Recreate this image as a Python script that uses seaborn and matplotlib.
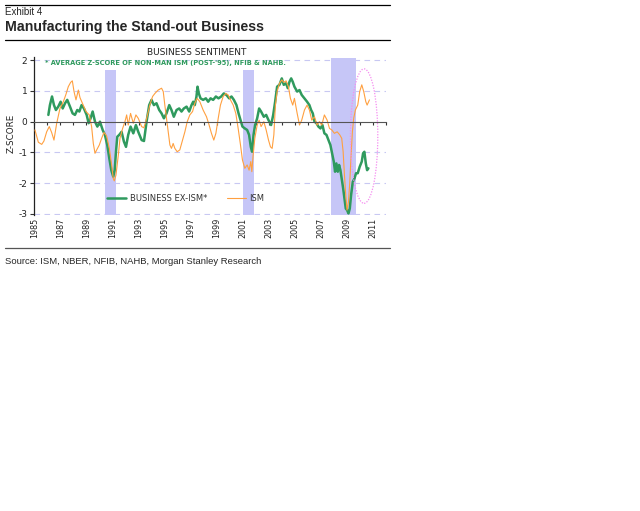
import pandas as pd
import seaborn as sns
import matplotlib.pyplot as plt
from matplotlib.patches import Ellipse
from matplotlib.lines import Line2D

# ISM z-score
ism_year = [1985.05, 1985.31, 1985.57, 1985.74, 1985.95, 1986.15, 1986.33, 1986.51, 1986.72, 1986.97,
            1987.23, 1987.43, 1987.61, 1987.79, 1987.92, 1988.05, 1988.20, 1988.38, 1988.51, 1988.76,
            1988.97, 1989.22, 1989.40, 1989.53, 1989.66, 1989.79, 1989.99, 1990.17, 1990.35, 1990.55,
            1990.76, 1990.94, 1991.06, 1991.14, 1991.27, 1991.45, 1991.58, 1991.78, 1991.96, 1992.09,
            1992.21, 1992.39, 1992.60, 1992.80, 1992.98, 1993.24, 1993.41, 1993.62, 1993.87, 1994.08,
            1994.26, 1994.51, 1994.77, 1994.90, 1995.02, 1995.15, 1995.28, 1995.41, 1995.53, 1995.66,
            1995.79, 1995.97, 1996.17, 1996.38, 1996.56, 1996.74, 1996.94, 1997.15, 1997.32, 1997.50,
            1997.71, 1997.96, 1998.22, 1998.42, 1998.60, 1998.78, 1998.94, 1999.12, 1999.29, 1999.50,
            1999.70, 1999.88, 2000.06, 2000.27, 2000.47, 2000.65, 2000.83, 2000.98, 2001.16, 2001.34,
            2001.49, 2001.62, 2001.70, 2001.80, 2001.93, 2002.11, 2002.26, 2002.41, 2002.62, 2002.80,
            2002.98, 2003.13, 2003.26, 2003.39, 2003.51, 2003.64, 2003.82, 2004.00, 2004.15, 2004.33,
            2004.51, 2004.66, 2004.84, 2004.97, 2005.18, 2005.36, 2005.53, 2005.74, 2005.94, 2006.12,
            2006.30, 2006.51, 2006.71, 2006.89, 2007.07, 2007.27, 2007.48, 2007.66, 2007.84, 2008.04,
            2008.25, 2008.45, 2008.60, 2008.71, 2008.81, 2008.91, 2009.01, 2009.12, 2009.22, 2009.32,
            2009.42, 2009.52, 2009.65, 2009.83, 2009.98, 2010.14, 2010.29, 2010.45, 2010.55, 2010.73]
ism_value = [-0.27, -0.67, -0.74, -0.63, -0.33, -0.16, -0.35, -0.60, -0.05, 0.43,
             0.65, 0.89, 1.14, 1.28, 1.33, 0.98, 0.71, 1.03, 0.78, 0.54,
             0.33, 0.22, -0.16, -0.71, -1.03, -0.92, -0.76, -0.54, -0.35, -0.46,
             -0.87, -1.41, -1.85, -1.93, -1.74, -1.09, -0.54, -0.22, 0.00, 0.22,
             -0.11, 0.27, -0.05, 0.22, 0.11, -0.16, -0.20, 0.10, 0.54, 0.82,
             0.92, 1.03, 1.09, 0.98, 0.54, 0.11, -0.33, -0.76, -0.87, -0.71,
             -0.87, -0.98, -0.92, -0.60, -0.33, 0.00, 0.22, 0.33, 0.60, 0.76,
             0.65, 0.38, 0.16, -0.11, -0.38, -0.60, -0.38, 0.11, 0.54, 0.82,
             0.92, 0.87, 0.71, 0.54, 0.27, -0.22, -0.76, -1.25, -1.52, -1.41,
             -1.58, -1.30, -1.63, -1.09, -0.54, -0.11, 0.05, -0.16, 0.00, -0.27,
             -0.60, -0.82, -0.87, -0.43, 0.54, 0.98, 1.25, 1.36, 1.28, 1.33,
             1.14, 0.76, 0.54, 0.76, 0.27, -0.11, 0.05, 0.38, 0.54, 0.38,
             0.05, 0.16, -0.11, 0.00, -0.11, 0.22, 0.05, -0.22, -0.27, -0.38,
             -0.33, -0.43, -0.54, -0.98, -1.74, -2.39, -2.88, -2.61, -1.96, -1.09,
             -0.33, 0.11, 0.38, 0.54, 0.98, 1.20, 0.98, 0.65, 0.54, 0.71]

# Business ex-ISM average z-score
biz_year = [1986.08, 1986.20, 1986.36, 1986.51, 1986.66, 1986.84, 1987.02, 1987.18, 1987.36, 1987.53,
            1987.74, 1987.94, 1988.12, 1988.30, 1988.46, 1988.63, 1988.81, 1989.02, 1989.17, 1989.32,
            1989.48, 1989.66, 1989.84, 1990.04, 1990.25, 1990.42, 1990.60, 1990.76, 1990.91, 1991.06,
            1991.17, 1991.27, 1991.37, 1991.52, 1991.70, 1991.88, 1992.04, 1992.21, 1992.39, 1992.60,
            1992.80, 1992.98, 1993.24, 1993.42, 1993.62, 1993.82, 1994.00, 1994.18, 1994.38, 1994.59,
            1994.77, 1994.95, 1995.15, 1995.36, 1995.53, 1995.71, 1995.92, 1996.12, 1996.30, 1996.48,
            1996.69, 1996.89, 1997.07, 1997.20, 1997.32, 1997.45, 1997.53, 1997.63, 1997.76, 1997.96,
            1998.17, 1998.35, 1998.53, 1998.73, 1998.94, 1999.14, 1999.35, 1999.55, 1999.75, 1999.96,
            2000.14, 2000.32, 2000.52, 2000.68, 2000.83, 2000.98, 2001.16, 2001.34, 2001.49, 2001.62,
            2001.72, 2001.83, 2001.95, 2002.11, 2002.26, 2002.41, 2002.62, 2002.80, 2002.98, 2003.18,
            2003.34, 2003.49, 2003.64, 2003.82, 2004.00, 2004.15, 2004.33, 2004.46, 2004.59, 2004.72,
            2004.84, 2004.97, 2005.18, 2005.36, 2005.53, 2005.74, 2005.94, 2006.12, 2006.25, 2006.38,
            2006.51, 2006.66, 2006.81, 2006.97, 2007.12, 2007.27, 2007.43, 2007.58, 2007.73, 2007.89,
            2007.99, 2008.09, 2008.19, 2008.30, 2008.40, 2008.50, 2008.60, 2008.71, 2008.81, 2008.91,
            2009.01, 2009.12, 2009.22, 2009.32, 2009.45, 2009.58, 2009.70, 2009.83, 2009.98, 2010.14,
            2010.24, 2010.34, 2010.45, 2010.55, 2010.65]
biz_value = [0.22, 0.54, 0.82, 0.54, 0.38, 0.49, 0.65, 0.43, 0.60, 0.71,
             0.49, 0.27, 0.22, 0.38, 0.33, 0.54, 0.43, 0.22, -0.05, 0.11,
             0.33, 0.00, -0.16, 0.00, -0.27, -0.43, -0.76, -1.20, -1.58, -1.79,
             -1.58, -0.98, -0.49, -0.43, -0.33, -0.65, -0.82, -0.43, -0.16, -0.38,
             -0.11, -0.33, -0.60, -0.63, 0.00, 0.54, 0.71, 0.54, 0.60, 0.38,
             0.27, 0.11, 0.27, 0.54, 0.38, 0.16, 0.38, 0.43, 0.33, 0.43,
             0.49, 0.33, 0.54, 0.65, 0.54, 0.82, 1.14, 0.92, 0.76, 0.71,
             0.76, 0.65, 0.76, 0.71, 0.82, 0.76, 0.82, 0.92, 0.87, 0.76,
             0.82, 0.71, 0.54, 0.27, 0.05, -0.16, -0.22, -0.27, -0.43, -0.82,
             -0.98, -0.43, -0.11, 0.11, 0.43, 0.33, 0.16, 0.22, 0.05, -0.11,
             0.22, 0.65, 1.14, 1.20, 1.41, 1.20, 1.25, 1.09, 1.30, 1.41,
             1.30, 1.14, 0.98, 1.03, 0.87, 0.76, 0.65, 0.54, 0.38, 0.27,
             0.00, -0.05, -0.16, -0.22, -0.11, -0.38, -0.43, -0.60, -0.76, -1.09,
             -1.30, -1.63, -1.36, -1.63, -1.41, -1.58, -1.85, -2.17, -2.50, -2.83,
             -2.88, -2.99, -2.83, -2.39, -1.96, -1.85, -1.68, -1.68, -1.47, -1.30,
             -1.03, -0.98, -1.36, -1.58, -1.52]

rec_start = [1990.4, 2001.0, 2007.8]
rec_end = [1991.3, 2001.9, 2009.7]
rec_top = [1.68, 1.68, 2.07]
label_years = list(range(1985, 2012, 2))

sns.set_style("white")
plt.rcParams['font.family'] = ['DejaVu Sans']
plt.rcParams['axes.unicode_minus'] = False

green = '#2f9a5e'
orange = '#ffa040'

fig = plt.figure(figsize=(6.4, 5.11), dpi=100)
ax = fig.add_axes([34.3 / 640, 1 - 215.3 / 511, 351.7 / 640, 158.1 / 511])

for s, e, t in zip(rec_start, rec_end, rec_top):
    ax.fill_between([s, e], -3.05, t, color='#c6c6f7', lw=0, zorder=1)

for v in [2, 1, -1, -2, -3]:
    ax.axhline(v, color='#c8c8f2', ls=(0, (5, 4)), lw=0.8, zorder=0)

biz = pd.DataFrame({'year': biz_year, 'z': biz_value})
ism = pd.DataFrame({'year': ism_year, 'z': ism_value})
sns.lineplot(data=biz, x='year', y='z', color=green, lw=1.8, ax=ax, estimator=None, zorder=3)
sns.lineplot(data=ism, x='year', y='z', color=orange, lw=0.8, ax=ax, estimator=None, zorder=4)

ax.add_patch(Ellipse((2010.32, -0.47), 2.1, 4.38, fill=False, ec='#f58cf0', ls=(0, (1, 1.2)), lw=0.9, zorder=5))

ax.set_xlim(1985, 2012)
ax.set_ylim(-3.05, 2.1)

# zero line carries the year ticks
ax.spines['bottom'].set_position(('data', 0))
ax.spines['bottom'].set_color('#555555')
ax.spines['bottom'].set_zorder(6)
ax.spines['top'].set_visible(False)
ax.spines['right'].set_visible(False)
ax.spines['left'].set_color('#222222')
ax.spines['left'].set_linewidth(0.9)
ax.set_xticks(range(1985, 2013))
ax.tick_params(axis='x', bottom=True, direction='out', length=2.5, width=0.8, color='#333333', labelbottom=False)
ax.set_yticks([-3, -2, -1, 0, 1, 2])
ax.tick_params(axis='y', left=True, direction='out', length=3, width=0.8, color='#333333',
               labelsize=6.5, labelcolor='#222222', pad=2)
ax.set_xlabel('')
ax.set_ylabel('Z-SCORE', fontsize=6.3, color='#222222')
ax.yaxis.set_label_coords(-0.052, 0.52)

sec = ax.secondary_xaxis('bottom')
sec.set_xticks(label_years)
sec.tick_params(length=0, labelrotation=90, labelsize=5.8, labelcolor='#222222', pad=2)
sec.spines['bottom'].set_visible(False)

handles = [Line2D([], [], color=green, lw=1.8), Line2D([], [], color=orange, lw=0.8)]
ax.legend(handles, ['BUSINESS EX-ISM*', 'ISM'], loc='center left', bbox_to_anchor=(0.207, 0.109),
          frameon=False, ncol=2, fontsize=6, handlelength=2.3, columnspacing=2.4,
          handletextpad=0.4, borderaxespad=0, borderpad=0, labelcolor='#333333')

fig.text(197 / 640, 1 - 52.5 / 511, 'BUSINESS SENTIMENT', ha='center', va='center', fontsize=6.5, color='#222222')
fig.text(45 / 640, 1 - 63.5 / 511, "* AVERAGE Z-SCORE OF NON-MAN ISM (POST-'95), NFIB & NAHB.",
         ha='left', va='center', fontsize=4.8, fontweight='bold', color=green)

fig.add_artist(Line2D([5 / 640, 390 / 640], [1 - 5 / 511] * 2, color='black', lw=0.9))
fig.text(5 / 640, 1 - 12 / 511, 'Exhibit 4', ha='left', va='center', fontsize=7, family='Liberation Sans')
fig.text(5 / 640, 1 - 27.5 / 511, 'Manufacturing the Stand-out Business', ha='left', va='center',
         fontsize=10.2, fontweight='bold', family='Liberation Sans')
fig.add_artist(Line2D([5 / 640, 390 / 640], [1 - 40 / 511] * 2, color='black', lw=0.9))
fig.add_artist(Line2D([5 / 640, 390 / 640], [1 - 248 / 511] * 2, color='#555555', lw=0.9))
fig.text(5 / 640, 1 - 261 / 511, 'Source: ISM, NBER, NFIB, NAHB, Morgan Stanley Research', ha='left',
         va='center', fontsize=6.8, family='Liberation Sans')

fig.savefig('out.png', dpi=100)
